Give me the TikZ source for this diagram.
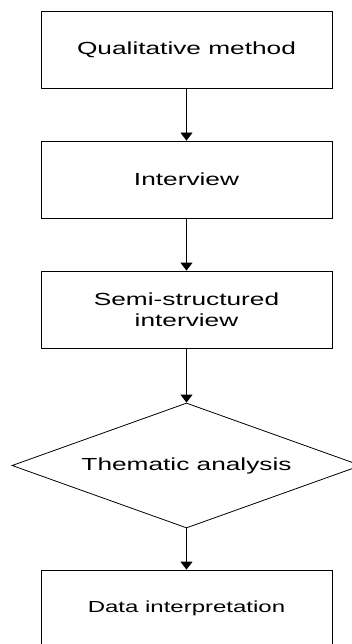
\documentclass[tikz,border=0pt]{standalone}
\usepackage{fontspec}
\setmainfont{Liberation Sans}[FakeStretch=1.5]
\usetikzlibrary{shapes.geometric,arrows.meta}
\begin{document}
\begin{tikzpicture}[x=1pt,y=-1pt,
  stepbox/.style={draw=black,line width=0.8pt,minimum width=291pt,minimum height=77pt,inner sep=0pt,align=center,font=\fontsize{17.5}{20.5}\selectfont},
  decision/.style={draw=black,line width=0.8pt,diamond,aspect=2.792,minimum width=349pt,minimum height=125pt,inner sep=0pt,font=\fontsize{17.5}{20.5}\selectfont},
  flow/.style={draw=black,line width=0.8pt,-{Triangle[width=12pt,length=8pt]}}]
\useasboundingbox (0,0) rectangle (351,644);
\node[stepbox] (qm) at (186.5,49.5) {Qualitative method};
\node[stepbox] (iv) at (186.5,179.5) {Interview};
\node[stepbox] (ssi) at (186.5,309.5) {Semi-structured\\interview};
\node[decision] (ta) at (186.5,465.5) {Thematic analysis};
\node[stepbox,font=\fontsize{16}{19}\selectfont] (di) at (186.5,608.5) {Data interpretation};
\draw[flow] (qm) -- (iv);
\draw[flow] (iv) -- (ssi);
\draw[flow] (ssi) -- (ta);
\draw[flow] (ta) -- (di);
\end{tikzpicture}
\end{document}
